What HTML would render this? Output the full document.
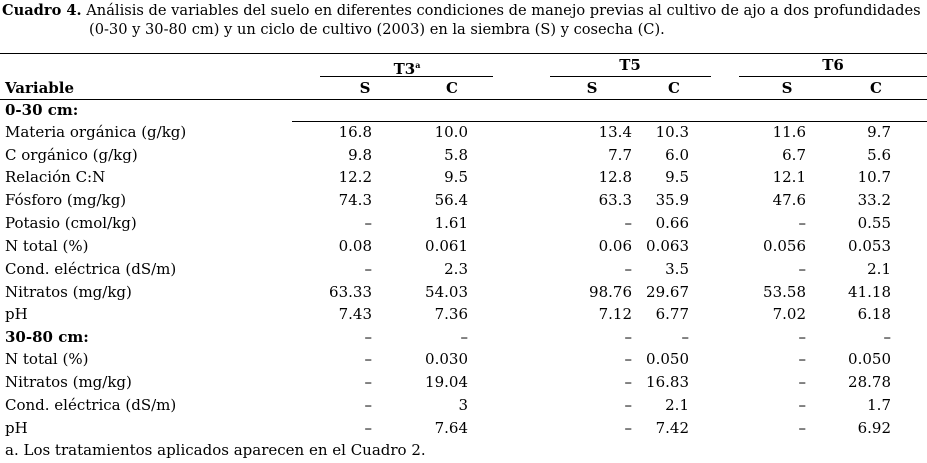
<!DOCTYPE html>
<html><head><meta charset="utf-8"><style>
body{margin:0;width:927px;height:463px;background:#fff;position:relative;overflow:hidden;font-family:"DejaVu Serif","Liberation Serif",serif;font-size:15px;color:#000}
div.t{position:absolute;white-space:nowrap;line-height:18px}
.b{font-weight:bold}
.r{text-align:right;width:100px}
.c{text-align:center;width:60px}
.l{position:absolute;height:1.3px;background:#000}
</style></head><body>
<div class="t" style="left:2px;top:2px;font-size:14.6px"><span class="b">Cuadro 4.</span> Análisis de variables del suelo en diferentes condiciones de manejo previas al cultivo de ajo a dos profundidades</div>
<div class="t" style="left:89px;top:21px;font-size:14.6px">(0-30 y 30-80 cm) y un ciclo de cultivo (2003) en la siembra (S) y cosecha (C).</div>
<div class="l" style="left:0;width:927px;top:53px"></div>
<div class="l" style="left:320px;width:173px;top:76px"></div>
<div class="l" style="left:550px;width:161px;top:76px"></div>
<div class="l" style="left:739px;width:188px;top:76px"></div>
<div class="l" style="left:0;width:927px;top:99px"></div>
<div class="l" style="left:292px;width:635px;top:121px"></div>
<div class="t b c" style="left:377px;top:56px">T3<sup style="font-size:8px">a</sup></div>
<div class="t b c" style="left:600px;top:56px">T5</div>
<div class="t b c" style="left:803px;top:56px">T6</div>
<div class="t b" style="left:5px;top:79px">Variable</div>
<div class="t b c" style="left:335px;top:79px">S</div>
<div class="t b c" style="left:422px;top:79px">C</div>
<div class="t b c" style="left:562px;top:79px">S</div>
<div class="t b c" style="left:644px;top:79px">C</div>
<div class="t b c" style="left:757px;top:79px">S</div>
<div class="t b c" style="left:846px;top:79px">C</div>
<div class="t b" style="left:5px;top:101px">0-30 cm:</div>
<div id="rows"></div>
<div class="t" style="left:5px;top:441px">a. Los tratamientos aplicados aparecen en el Cuadro 2.</div>
<script>
var d=[
[132,"Materia orgánica (g/kg)","16.8","10.0","13.4","10.3","11.6","9.7"],
[155,"C orgánico (g/kg)","9.8","5.8","7.7","6.0","6.7","5.6"],
[177,"Relación C:N","12.2","9.5","12.8","9.5","12.1","10.7"],
[200,"Fósforo (mg/kg)","74.3","56.4","63.3","35.9","47.6","33.2"],
[223,"Potasio (cmol/kg)","–","1.61","–","0.66","–","0.55"],
[246,"N total (%)","0.08","0.061","0.06","0.063","0.056","0.053"],
[269,"Cond. eléctrica (dS/m)","–","2.3","–","3.5","–","2.1"],
[292,"Nitratos (mg/kg)","63.33","54.03","98.76","29.67","53.58","41.18"],
[314,"pH","7.43","7.36","7.12","6.77","7.02","6.18"],
[337,"<b>30-80 cm:</b>","–","–","–","–","–","–"],
[359,"N total (%)","–","0.030","–","0.050","–","0.050"],
[382,"Nitratos (mg/kg)","–","19.04","–","16.83","–","28.78"],
[405,"Cond. eléctrica (dS/m)","–","3","–","2.1","–","1.7"],
[428,"pH","–","7.64","–","7.42","–","6.92"]];
var R=[372,468,632,689,806,891],h="";
d.forEach(function(r){var t=r[0]-9;h+='<div class="t" style="left:5px;top:'+t+'px">'+r[1]+'</div>';
for(var i=0;i<6;i++)h+='<div class="t r" style="left:'+(R[i]-100)+'px;top:'+t+'px">'+r[i+2]+'</div>';});
document.getElementById("rows").innerHTML=h;
</script>
</body></html>
